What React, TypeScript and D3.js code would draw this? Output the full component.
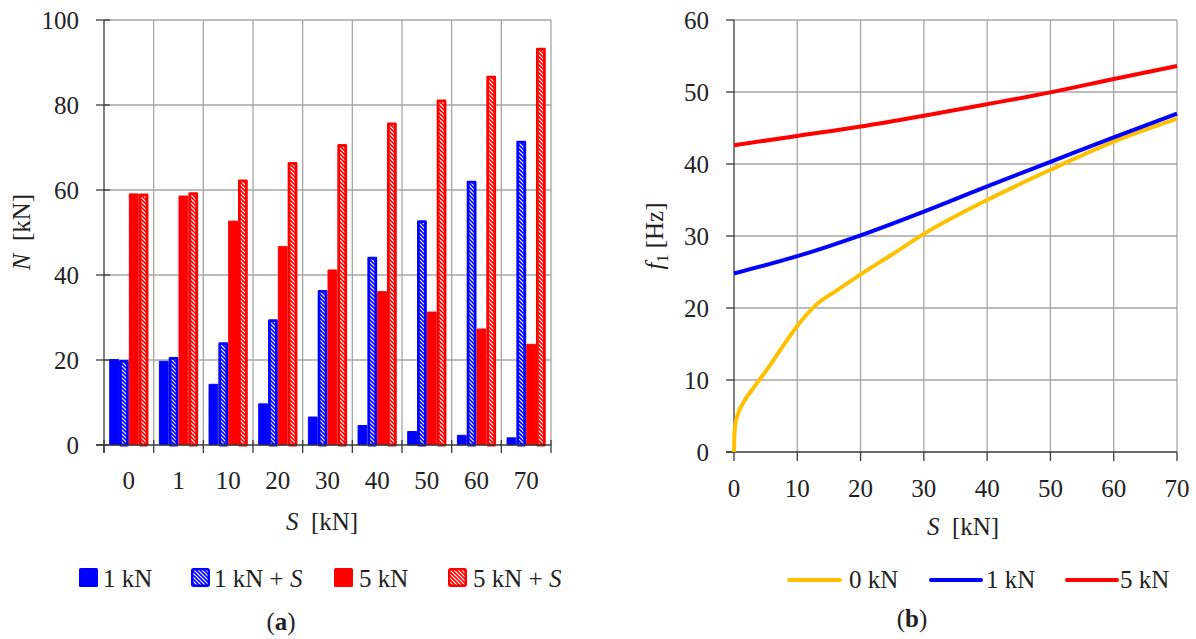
import React from 'react';
import * as d3 from 'd3';

// ---- Chart (a) data ----
const categories = ['0', '1', '10', '20', '30', '40', '50', '60', '70'];
const seriesNames = ['1 kN', '1 kN + S', '5 kN', '5 kN + S'];
const n1kN = [20.2, 19.8, 14.4, 9.8, 6.7, 4.7, 3.3, 2.4, 1.8];
const n1kNS = [20.0, 20.7, 24.2, 29.6, 36.5, 44.3, 52.9, 62.2, 71.6];
const n5kN = [59.2, 58.7, 52.8, 46.8, 41.3, 36.2, 31.4, 27.4, 23.8];
const n5kNS = [59.2, 59.5, 62.5, 66.6, 70.8, 75.9, 81.3, 86.9, 93.5];
const yTicksA = [0, 20, 40, 60, 80, 100];

// ---- Chart (b) data ----
const s0kN = [0, 0.05, 0.16, 0.6, 1.5, 3, 5, 7.5, 9.9, 12.8, 16.5, 19.9, 24.9, 30.2, 40, 50, 60, 70];
const f0kN = [0, 2.0, 3.5, 5.2, 6.9, 8.8, 11.2, 14.4, 17.4, 20.3, 22.6, 24.6, 27.4, 30.4, 35.0, 39.2, 43.1, 46.3];
const sLoaded = [0, 10, 20, 30, 40, 50, 60, 70];
const f1kN = [24.8, 27.2, 30.1, 33.4, 36.9, 40.3, 43.7, 47.0];
const f5kN = [42.6, 43.9, 45.2, 46.7, 48.3, 49.95, 51.8, 53.6];
const xTicksB = [0, 10, 20, 30, 40, 50, 60, 70];
const yTicksB = [0, 10, 20, 30, 40, 50, 60];
const lineNames = ['0 kN', '1 kN', '5 kN'];

const BLUE = '#0000FF';
const RED = '#FF0000';
const YELLOW = '#FFC000';
const GRID = '#A6A6A6';
const AXIS = '#3a3a3a';
const TEXT = '#222';
const FONT = '"Liberation Serif", "Times New Roman", serif';
const FS = 25;

export default function App() {
  // Chart (a) scales
  const xA = d3.scaleBand<string>().domain(categories).range([104, 551]).padding(0);
  const yA = d3.scaleLinear().domain([0, 100]).range([445, 20]);
  const bw = xA.bandwidth();
  const groupW = bw * 0.79;
  const inner = d3.scaleBand<number>().domain([0, 1, 2, 3]).range([(bw - groupW) / 2, (bw + groupW) / 2]).padding(0);
  const seriesVals = [n1kN, n1kNS, n5kN, n5kNS];
  const seriesColor = [BLUE, BLUE, RED, RED];
  const seriesHatched = [false, true, false, true];

  // Chart (b) scales
  const xB = d3.scaleLinear().domain([0, 70]).range([734, 1177]);
  const yB = d3.scaleLinear().domain([0, 60]).range([452, 20]);
  const line = d3.line<[number, number]>().x(d => xB(d[0])).y(d => yB(d[1])).curve(d3.curveMonotoneX);
  const lines = [
    { name: lineNames[0], color: YELLOW, pts: s0kN.map((s, i) => [s, f0kN[i]] as [number, number]) },
    { name: lineNames[1], color: BLUE, pts: sLoaded.map((s, i) => [s, f1kN[i]] as [number, number]) },
    { name: lineNames[2], color: RED, pts: sLoaded.map((s, i) => [s, f5kN[i]] as [number, number]) },
  ];

  const bars: React.ReactNode[] = [];
  categories.forEach((c, ci) => {
    seriesVals.forEach((vals, si) => {
      const x0 = (xA(c) as number) + (inner(si) as number);
      const w = inner.bandwidth();
      const yTop = yA(vals[ci]);
      const h = yA(0) - yTop;
      if (seriesHatched[si]) {
        bars.push(
          <rect key={`b${ci}-${si}`} x={x0 + 1.4} y={yTop + 1.4} width={w - 2.8} height={h - 1.4}
            fill={`url(#hatch${si === 1 ? 'Blue' : 'Red'})`} stroke={seriesColor[si]} strokeWidth={2.8}
            strokeLinejoin="round" />
        );
      } else {
        bars.push(
          <rect key={`b${ci}-${si}`} x={x0 + 0.5} y={yTop + 0.5} width={w - 1} height={h - 0.5}
            fill={seriesColor[si]} stroke={seriesColor[si]} strokeWidth={1} strokeLinejoin="round" />
        );
      }
    });
  });

  const catBounds = categories.map(c => xA(c) as number).concat([551]);

  const legendA = [
    { x: 79, tx: 103, si: 0 },
    { x: 191, tx: 214, si: 1 },
    { x: 334, tx: 359, si: 2 },
    { x: 448, tx: 473, si: 3 },
  ];

  const renderLabel = (name: string) => {
    if (name.endsWith('+ S')) {
      return (<>{name.slice(0, -1)}<tspan fontStyle="italic">S</tspan></>);
    }
    return name;
  };

  const legendB = [
    { x1: 789, x2: 840, tx: 849 },
    { x1: 931, x2: 981, tx: 986 },
    { x1: 1067, x2: 1117, tx: 1120 },
  ];

  return (
    <svg width={1196} height={639} style={{ position: 'absolute', left: 0, top: 0, background: '#fff' }}
      fontFamily={FONT} fontSize={FS} fill={TEXT}>
      <defs>
        <pattern id="hatchBlue" width={4} height={4} patternUnits="userSpaceOnUse">
          <rect width={4} height={4} fill={BLUE} />
          <path d="M0,0 L4,4 M-1,3 L1,5 M3,-1 L5,1" stroke="#fff" strokeWidth={1.2} />
        </pattern>
        <pattern id="hatchRed" width={4} height={4} patternUnits="userSpaceOnUse">
          <rect width={4} height={4} fill={RED} />
          <path d="M0,0 L4,4 M-1,3 L1,5 M3,-1 L5,1" stroke="#fff" strokeWidth={1.2} />
        </pattern>
      </defs>
      <rect x={0} y={0} width={1196} height={639} fill="#fff" />

      {/* ===== Chart (a) ===== */}
      <g>
        {yTicksA.filter(t => t > 0).map(t => (
          <line key={`ga${t}`} x1={104} x2={551} y1={yA(t)} y2={yA(t)} stroke={GRID} strokeWidth={1.3} />
        ))}
        {catBounds.slice(1).map((x, i) => (
          <line key={`gv${i}`} x1={x} x2={x} y1={20} y2={445} stroke={GRID} strokeWidth={1.3} />
        ))}
        {bars}
        {/* axes */}
        <line x1={104} x2={104} y1={20} y2={453} stroke={AXIS} strokeWidth={1.3} />
        <line x1={96} x2={551} y1={445} y2={445} stroke={AXIS} strokeWidth={1.3} />
        {yTicksA.map(t => (
          <line key={`ta${t}`} x1={96} x2={110} y1={yA(t)} y2={yA(t)} stroke={AXIS} strokeWidth={1.3} />
        ))}
        {catBounds.map((x, i) => (
          <line key={`tx${i}`} x1={x} x2={x} y1={440} y2={453} stroke={AXIS} strokeWidth={1.3} />
        ))}
        {yTicksA.map(t => (
          <text key={`la${t}`} x={79} y={yA(t)} dy="0.34em" textAnchor="end">{t}</text>
        ))}
        {categories.map(c => (
          <text key={`lc${c}`} x={(xA(c) as number) + bw / 2} y={489} textAnchor="middle">{c}</text>
        ))}
        <text x={322} y={530} textAnchor="middle"><tspan fontStyle="italic">S</tspan>{'\u2002'}[kN]</text>
        <text transform={`translate(30,232) rotate(-90)`} textAnchor="middle"><tspan fontStyle="italic">N</tspan>{'\u2002'}[kN]</text>
        {legendA.map(l => (
          <g key={`lg${l.si}`}>
            {seriesHatched[l.si] ? (
              <rect x={l.x + 1.2} y={569.2} width={16.6} height={16.6} rx={1.5}
                fill={`url(#hatch${l.si === 1 ? 'Blue' : 'Red'})`} stroke={seriesColor[l.si]} strokeWidth={2.4} />
            ) : (
              <rect x={l.x} y={568} width={19} height={19} rx={1.5} fill={seriesColor[l.si]} />
            )}
            <text x={l.tx} y={587}>{renderLabel(seriesNames[l.si])}</text>
          </g>
        ))}
        <text x={281} y={630} textAnchor="middle">(<tspan fontWeight="bold">a</tspan>)</text>
      </g>

      {/* ===== Chart (b) ===== */}
      <g>
        {yTicksB.filter(t => t > 0).map(t => (
          <line key={`gb${t}`} x1={734} x2={1177} y1={yB(t)} y2={yB(t)} stroke={GRID} strokeWidth={1.3} />
        ))}
        {xTicksB.filter(t => t > 0).map(t => (
          <line key={`gbv${t}`} x1={xB(t)} x2={xB(t)} y1={20} y2={452} stroke={GRID} strokeWidth={1.3} />
        ))}
        <line x1={734} x2={734} y1={20} y2={452} stroke={AXIS} strokeWidth={1.3} />
        <line x1={726} x2={1177} y1={452} y2={452} stroke={AXIS} strokeWidth={1.3} />
        {yTicksB.map(t => (
          <line key={`tb${t}`} x1={726} x2={734} y1={yB(t)} y2={yB(t)} stroke={AXIS} strokeWidth={1.3} />
        ))}
        {xTicksB.map(t => (
          <line key={`tbx${t}`} x1={xB(t)} x2={xB(t)} y1={452} y2={461} stroke={AXIS} strokeWidth={1.3} />
        ))}
        {lines.map(l => (
          <path key={l.name} d={line(l.pts) || ''} fill="none" stroke={l.color} strokeWidth={4} strokeLinecap="butt" />
        ))}
        {yTicksB.map(t => (
          <text key={`lb${t}`} x={709} y={yB(t)} dy="0.34em" textAnchor="end">{t}</text>
        ))}
        {xTicksB.map(t => (
          <text key={`lbx${t}`} x={xB(t)} y={497} textAnchor="middle">{t}</text>
        ))}
        <text x={963} y={535} textAnchor="middle"><tspan fontStyle="italic">S</tspan>{'\u2002'}[kN]</text>
        <text transform={`translate(663,236) rotate(-90)`} textAnchor="middle">
          <tspan fontStyle="italic">f</tspan><tspan fontSize={16} dy={5}>1</tspan><tspan dy={-5}> [Hz]</tspan>
        </text>
        {legendB.map((l, i) => (
          <g key={`lgb${i}`}>
            <line x1={l.x1} x2={l.x2} y1={580} y2={580} stroke={lines[i].color} strokeWidth={4} strokeLinecap="round" />
            <text x={l.tx} y={588}>{lineNames[i]}</text>
          </g>
        ))}
        <text x={912} y={627} textAnchor="middle">(<tspan fontWeight="bold">b</tspan>)</text>
      </g>
    </svg>
  );
}
